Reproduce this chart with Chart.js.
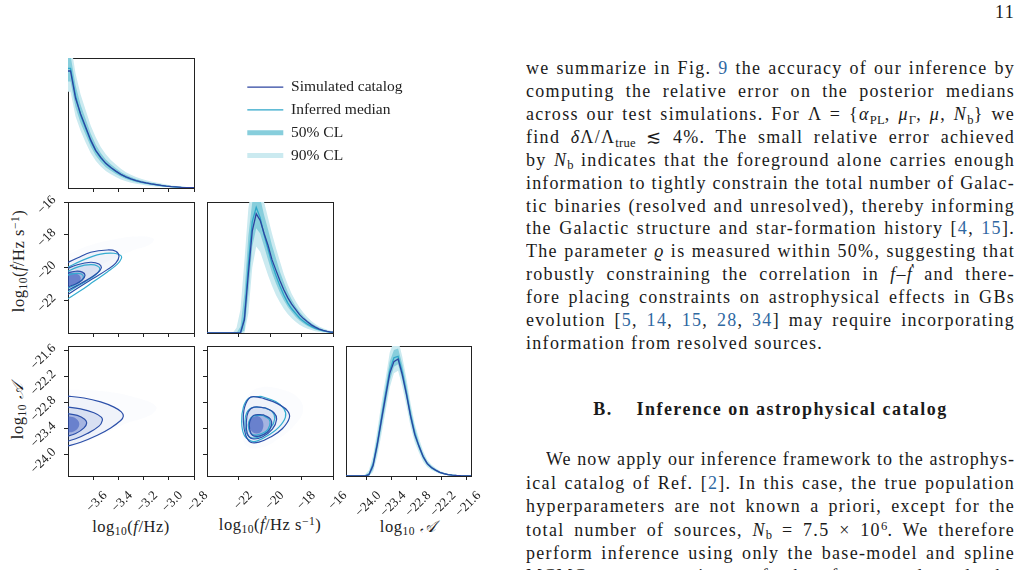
<!DOCTYPE html>
<html><head><meta charset="utf-8">
<script src="https://cdn.jsdelivr.net/npm/chart.js@4.4.1/dist/chart.umd.min.js"></script>
<style>
html,body{margin:0;padding:0;background:#fff;}
#page{position:relative;width:1025px;height:570px;overflow:hidden;background:#fff;font-family:"Liberation Serif","DejaVu Serif",serif;color:#1a1a1a;}
canvas{position:absolute;}
.ln{position:absolute;left:526px;width:489px;height:23px;line-height:23px;font-size:18px;letter-spacing:1.3px;white-space:nowrap;}
.j{text-align:justify;text-align-last:justify;overflow:hidden;}
.ln sub{font-size:70%;vertical-align:baseline;position:relative;top:0.28em;letter-spacing:0.2px;}
.ln sup{font-size:70%;vertical-align:baseline;position:relative;top:-0.45em;letter-spacing:0.2px;}
.c{color:#2f68a2;}
.hd{position:absolute;left:526px;width:489px;text-align:center;font-weight:bold;font-size:18px;letter-spacing:1.45px;line-height:23px;}
.pg{position:absolute;right:10px;top:1px;font-size:18px;letter-spacing:1.3px;line-height:23px;}
.ax{position:absolute;font-size:16.5px;letter-spacing:0.5px;white-space:nowrap;transform:translate(-50%,-50%);color:#222;line-height:20px;}
.ay{position:absolute;font-size:16.5px;letter-spacing:0.5px;white-space:nowrap;transform:translate(-50%,-50%) rotate(-90deg);color:#222;line-height:20px;}
.ax sub,.ay sub{font-size:70%;vertical-align:baseline;position:relative;top:0.3em;}
.ax sup,.ay sup{font-size:70%;vertical-align:baseline;position:relative;top:-0.45em;}
</style></head>
<body><div id="page">
<div class="pg">11</div>

<div class="ln j" style="top:57px">we summarize in Fig. <span class="c">9</span> the accuracy of our inference by</div>
<div class="ln j" style="top:80px">computing the relative error on the posterior medians</div>
<div class="ln j" style="top:103px">across our test simulations. For Λ = {<i>α</i><sub>PL</sub>, <i>μ</i><sub>Γ</sub>, <i>μ</i>, <i>N</i><sub>b</sub>} we</div>
<div class="ln j" style="top:126px">find <i>δ</i>Λ/Λ<sub>true</sub> ≲ 4%. The small relative error achieved</div>
<div class="ln j" style="top:148.5px">by <i>N</i><sub>b</sub> indicates that the foreground alone carries enough</div>
<div class="ln j" style="top:171.5px">information to tightly constrain the total number of Galac-</div>
<div class="ln j" style="top:194.5px">tic binaries (resolved and unresolved), thereby informing</div>
<div class="ln j" style="top:217px">the Galactic structure and star-formation history [<span class="c">4</span>, <span class="c">15</span>].</div>
<div class="ln j" style="top:240px">The parameter <i>ϱ</i> is measured within 50%, suggesting that</div>
<div class="ln j" style="top:263px">robustly constraining the correlation in <i>f</i>–<i>ḟ</i> and there-</div>
<div class="ln j" style="top:286px">fore placing constraints on astrophysical effects in GBs</div>
<div class="ln j" style="top:309px">evolution [<span class="c">5</span>, <span class="c">14</span>, <span class="c">15</span>, <span class="c">28</span>, <span class="c">34</span>] may require incorporating</div>
<div class="ln" style="top:332px">information from resolved sources.</div>

<div class="hd" style="top:398px">B.&nbsp;&nbsp;&nbsp; Inference on astrophysical catalog</div>

<div class="ln j" style="top:448px;left:546px;width:469px">We now apply our inference framework to the astrophys-</div>
<div class="ln j" style="top:471.5px">ical catalog of Ref. [<span class="c">2</span>]. In this case, the true population</div>
<div class="ln j" style="top:495px">hyperparameters are not known a priori, except for the</div>
<div class="ln j" style="top:518.5px">total number of sources, <i>N</i><sub>b</sub> = 7.5 × 10<sup>6</sup>. We therefore</div>
<div class="ln j" style="top:541.5px">perform inference using only the base-model and spline</div>
<div class="ln j" style="top:564.5px">MCMC reconstructions of the foreground and the resolved</div>

<div class="ax" style="left:131px;top:527px">log<sub>10</sub>(<i>f</i>/Hz)</div>
<div class="ax" style="left:270px;top:525px">log<sub>10</sub>(<i>ḟ</i>/Hz s<sup>−1</sup>)</div>
<div class="ax" style="left:408px;top:527px">log<sub>10</sub> <i>𝒜</i></div>
<div class="ay" style="left:19px;top:261px">log<sub>10</sub>(<i>ḟ</i>/Hz s<sup>−1</sup>)</div>
<div class="ay" style="left:18px;top:411px">log<sub>10</sub> <i>𝒜</i></div>
</div>
<script>
// fit justified lines: shrink letter-spacing only where a line would overflow
document.querySelectorAll('.ln.j').forEach(el => {
  let ls = 1.3;
  while (el.scrollWidth > el.clientWidth + 0.5 && ls > 0) { ls -= 0.05; el.style.letterSpacing = ls + 'px'; }
  el.style.whiteSpace = 'normal';
});

// ---------- axis ranges and ticks ----------
const fRange = [-3.8, -2.8];
const fdRange = [-24, -16];
const aRange = [-24.5, -21.5];
const histRange = [0, 1];
const fTicks = [-3.6, -3.4, -3.2, -3.0, -2.8];
const fTickLabels = ['\u22123.6', '\u22123.4', '\u22123.2', '\u22123.0', '\u22122.8'];
const fdTicks = [-22, -20, -18, -16];
const fdTickLabels = ['\u221222', '\u221220', '\u221218', '\u221216'];
const aTicks = [-24.0, -23.4, -22.8, -22.2, -21.6];
const aTickLabels = ['\u221224.0', '\u221223.4', '\u221222.8', '\u221222.2', '\u221221.6'];

// ---------- 1D: log10 f ----------
const fBins = [-3.78,-3.74,-3.70,-3.66,-3.62,-3.58,-3.54,-3.50,-3.46,-3.42,-3.38,-3.34,-3.30,-3.26,-3.22,-3.18,-3.14,-3.10,-3.06,-3.02,-2.98,-2.94,-2.90,-2.86,-2.82];
const fSim  = [0.90,0.69,0.57,0.47,0.37,0.29,0.235,0.19,0.158,0.13,0.105,0.085,0.07,0.057,0.047,0.039,0.032,0.026,0.020,0.015,0.011,0.008,0.005,0.003,0.002];
const fMed  = [0.92,0.71,0.56,0.46,0.36,0.285,0.23,0.188,0.155,0.127,0.103,0.084,0.069,0.056,0.046,0.038,0.031,0.025,0.019,0.014,0.010,0.007,0.005,0.003,0.002];
const f50lo = [0.82,0.62,0.50,0.41,0.32,0.25,0.20,0.16,0.132,0.107,0.086,0.069,0.056,0.045,0.037,0.030,0.024,0.019,0.014,0.010,0.007,0.005,0.003,0.002,0.001];
const f50hi = [1.02,0.79,0.64,0.53,0.42,0.335,0.27,0.22,0.183,0.152,0.124,0.101,0.084,0.069,0.057,0.048,0.040,0.033,0.026,0.020,0.015,0.011,0.007,0.005,0.003];
const f90lo = [0.74,0.55,0.44,0.35,0.27,0.21,0.165,0.13,0.105,0.084,0.066,0.052,0.041,0.032,0.026,0.020,0.015,0.011,0.008,0.005,0.003,0.002,0.001,0,0];
const f90hi = [1.12,0.88,0.72,0.60,0.48,0.39,0.315,0.26,0.215,0.18,0.148,0.122,0.102,0.085,0.071,0.06,0.05,0.042,0.034,0.027,0.02,0.015,0.01,0.007,0.005];

// ---------- 1D: log10 fdot ----------
const fdBins = [-23.875,-23.625,-23.375,-23.125,-22.875,-22.625,-22.375,-22.125,-21.875,-21.625,-21.375,-21.125,-20.875,-20.625,-20.375,-20.125,-19.875,-19.625,-19.375,-19.125,-18.875,-18.625,-18.375,-18.125,-17.875,-17.625,-17.375,-17.125,-16.875,-16.625,-16.375,-16.125];
const fdSim  = [0,0,0,0,0,0,0,0,0,0.10,0.45,0.78,0.91,0.86,0.76,0.67,0.56,0.48,0.40,0.33,0.27,0.22,0.18,0.14,0.11,0.085,0.062,0.045,0.030,0.020,0.012,0.006];
const fdMed  = [0,0,0,0,0,0,0,0,0,0.12,0.52,0.85,0.96,0.88,0.75,0.64,0.53,0.44,0.36,0.29,0.23,0.185,0.15,0.115,0.09,0.068,0.05,0.036,0.025,0.016,0.01,0.005];
const fd50lo = [0,0,0,0,0,0,0,0,0,0.02,0.30,0.66,0.80,0.76,0.66,0.56,0.46,0.38,0.31,0.25,0.20,0.16,0.125,0.095,0.072,0.053,0.038,0.027,0.018,0.011,0.006,0.003];
const fd50hi = [0,0,0,0,0,0,0,0,0.05,0.30,0.74,1.0,1.08,1.03,0.9,0.79,0.67,0.57,0.47,0.39,0.315,0.255,0.205,0.162,0.127,0.098,0.074,0.055,0.04,0.027,0.017,0.01];
const fd90lo = [0,0,0,0,0,0,0,0,0,0,0.15,0.50,0.66,0.62,0.53,0.44,0.36,0.29,0.235,0.185,0.145,0.112,0.085,0.063,0.046,0.032,0.022,0.014,0.008,0.004,0.002,0];
const fd90hi = [0,0,0,0,0,0,0,0.04,0.18,0.55,0.95,1.15,1.22,1.16,1.0,0.88,0.76,0.65,0.55,0.45,0.37,0.30,0.245,0.195,0.155,0.12,0.092,0.069,0.05,0.036,0.024,0.015];

// ---------- 1D: log10 A ----------
const aBins = [-24.45,-24.35,-24.25,-24.15,-24.05,-23.95,-23.85,-23.75,-23.65,-23.55,-23.45,-23.35,-23.25,-23.15,-23.05,-22.95,-22.85,-22.75,-22.65,-22.55,-22.45,-22.35,-22.25,-22.15,-22.05,-21.95,-21.85,-21.75,-21.65,-21.55];
const aSim  = [0,0,0,0,0,0.01,0.08,0.24,0.43,0.61,0.79,0.88,0.90,0.78,0.63,0.46,0.32,0.23,0.15,0.095,0.065,0.045,0.028,0.018,0.011,0.007,0.004,0.002,0.001,0.001];
const aMed  = [0,0,0,0,0,0.01,0.09,0.25,0.44,0.63,0.81,0.91,0.92,0.80,0.64,0.47,0.33,0.23,0.15,0.095,0.064,0.044,0.028,0.018,0.011,0.007,0.004,0.002,0.001,0.001];
const a50lo = [0,0,0,0,0,0,0.05,0.19,0.37,0.55,0.73,0.84,0.86,0.74,0.59,0.42,0.29,0.205,0.13,0.082,0.055,0.037,0.023,0.014,0.008,0.005,0.003,0.001,0,0];
const a50hi = [0,0,0,0,0.005,0.025,0.12,0.30,0.50,0.69,0.88,0.97,0.98,0.86,0.70,0.52,0.37,0.26,0.172,0.11,0.076,0.053,0.034,0.022,0.014,0.009,0.005,0.003,0.002,0.001];
const a90lo = [0,0,0,0,0,0,0.03,0.15,0.32,0.50,0.68,0.79,0.81,0.69,0.54,0.38,0.26,0.18,0.11,0.07,0.046,0.03,0.018,0.011,0.006,0.003,0.002,0.001,0,0];
const a90hi = [0,0,0,0,0.01,0.045,0.16,0.35,0.56,0.75,0.95,1.04,1.05,0.92,0.75,0.56,0.40,0.29,0.195,0.125,0.087,0.061,0.04,0.027,0.017,0.011,0.007,0.004,0.003,0.002];

// ---------- 2D: (log f, log fdot) contours ----------
const c10SimOuter = [[-3.83,-19.80],[-3.726,-19.42],[-3.62,-19.07],[-3.488,-18.93],[-3.421,-19.01],[-3.395,-19.32],[-3.421,-19.73],[-3.488,-20.13],[-3.594,-20.64],[-3.70,-21.15],[-3.83,-21.80]];
const c10SimMid   = [[-3.83,-20.15],[-3.726,-19.83],[-3.62,-19.68],[-3.554,-19.79],[-3.536,-20.03],[-3.567,-20.34],[-3.647,-20.75],[-3.726,-21.09],[-3.83,-21.52]];
const c10SimIn    = [[-3.83,-20.38],[-3.739,-20.23],[-3.686,-20.28],[-3.665,-20.48],[-3.686,-20.75],[-3.739,-21.01],[-3.83,-21.25]];
const c10InfOuter = [[-3.83,-20.10],[-3.673,-19.52],[-3.541,-19.18],[-3.435,-19.13],[-3.382,-19.26],[-3.377,-19.46],[-3.408,-19.79],[-3.488,-20.27],[-3.594,-20.84],[-3.699,-21.41],[-3.83,-22.05]];
const c10InfMid   = [[-3.83,-20.33],[-3.713,-19.95],[-3.62,-19.83],[-3.567,-19.91],[-3.548,-20.11],[-3.58,-20.44],[-3.66,-20.85],[-3.739,-21.21],[-3.83,-21.62]];
const c10InfIn    = [[-3.83,-20.52],[-3.739,-20.36],[-3.694,-20.40],[-3.678,-20.60],[-3.70,-20.85],[-3.752,-21.09],[-3.83,-21.35]];
const d10Halo = [[-3.83,-19.3],[-3.65,-18.7],[-3.45,-18.3],[-3.25,-18.1],[-3.12,-18.25],[-3.15,-18.6],[-3.3,-19.0],[-3.5,-19.7],[-3.68,-20.7],[-3.83,-21.9]];
const d10Core = [[-3.83,-20.3],[-3.74,-20.35],[-3.70,-20.6],[-3.72,-20.95],[-3.83,-21.15]];

// ---------- 2D: (log f, log A) contours ----------
const c20Outer = [[-3.83,-22.65],[-3.673,-22.70],[-3.541,-22.79],[-3.435,-22.91],[-3.377,-23.02],[-3.361,-23.12],[-3.382,-23.22],[-3.461,-23.39],[-3.567,-23.56],[-3.699,-23.72],[-3.83,-23.83]];
const c20Mid   = [[-3.83,-22.90],[-3.70,-22.95],[-3.594,-23.04],[-3.536,-23.14],[-3.528,-23.22],[-3.554,-23.35],[-3.647,-23.52],[-3.739,-23.64],[-3.83,-23.72]];
const c20In    = [[-3.83,-23.05],[-3.726,-23.10],[-3.668,-23.19],[-3.652,-23.28],[-3.673,-23.39],[-3.739,-23.52],[-3.83,-23.60]];
const d20Halo = [[-3.83,-22.5],[-3.5,-22.55],[-3.25,-22.7],[-3.1,-22.9],[-3.15,-23.1],[-3.35,-23.3],[-3.6,-23.65],[-3.83,-23.9]];
const d20Core = [[-3.83,-23.12],[-3.75,-23.15],[-3.71,-23.3],[-3.75,-23.47],[-3.83,-23.5]];

// ---------- 2D: (log fdot, log A) contours ----------
const c21SimOuter = [[-20.49,-22.70],[-19.53,-22.83],[-18.90,-22.99],[-18.77,-23.16],[-19.22,-23.41],[-19.96,-23.60],[-20.70,-23.72],[-21.23,-23.72],[-21.54,-23.56],[-21.69,-23.25],[-21.61,-22.91],[-21.23,-22.68],[-20.49,-22.70]];
const c21InfOuter = [[-20.59,-22.66],[-19.64,-22.78],[-19.11,-22.95],[-19.02,-23.14],[-19.43,-23.37],[-20.06,-23.55],[-20.80,-23.69],[-21.23,-23.69],[-21.65,-23.55],[-21.80,-23.25],[-21.69,-22.91],[-21.33,-22.70],[-20.59,-22.66]];
const c21SimMid   = [[-20.27,-22.93],[-19.75,-23.04],[-19.58,-23.19],[-19.85,-23.42],[-20.49,-23.60],[-21.12,-23.64],[-21.44,-23.52],[-21.50,-23.25],[-21.38,-23.02],[-21.02,-22.91],[-20.27,-22.93]];
const c21InfMid   = [[-20.38,-22.92],[-19.85,-23.02],[-19.70,-23.18],[-19.96,-23.39],[-20.59,-23.58],[-21.18,-23.62],[-21.50,-23.50],[-21.59,-23.25],[-21.48,-23.04],[-21.12,-22.92],[-20.38,-22.92]];
const c21SimIn    = [[-20.38,-23.09],[-19.96,-23.19],[-19.91,-23.33],[-20.17,-23.49],[-20.70,-23.58],[-21.12,-23.56],[-21.29,-23.42],[-21.29,-23.25],[-21.02,-23.10],[-20.38,-23.09]];
const c21InfIn    = [[-20.49,-23.10],[-20.06,-23.19],[-20.02,-23.33],[-20.27,-23.47],[-20.80,-23.55],[-21.18,-23.53],[-21.35,-23.41],[-21.35,-23.25],[-21.08,-23.12],[-20.49,-23.10]];
const d21Halo = [[-21.8,-23.0],[-21.3,-22.6],[-20.5,-22.45],[-19.3,-22.5],[-18.2,-22.7],[-17.9,-23.0],[-18.5,-23.35],[-19.5,-23.65],[-20.6,-23.85],[-21.5,-23.8],[-21.8,-23.45],[-21.8,-23.0]];
const d21Core = [[-21.25,-23.15],[-20.75,-23.12],[-20.45,-23.25],[-20.5,-23.45],[-20.85,-23.52],[-21.2,-23.45],[-21.3,-23.3],[-21.25,-23.15]];

// ---------- legend ----------
const legendLabels = ['Simulated catalog', 'Inferred median', '50% CL', '90% CL'];

// ---------- styles ----------
const INK = '#222';
const SIM = '#2c44a0';
const MED = '#2ea6c9';
const B50 = '#87cedc';
const B90 = '#cbeaf0';
const CSIM = '#2b4fa9';
const CINF = '#34acd0';
const DENS = a => `rgba(45,80,185,${a})`;
const FONT = "'Liberation Serif', 'DejaVu Serif', serif";

const page = document.getElementById('page');
function canvasAt(left, top, w, h) {
  const c = document.createElement('canvas');
  c.width = w; c.height = h;
  c.style.left = left + 'px'; c.style.top = top + 'px';
  c.style.width = w + 'px'; c.style.height = h + 'px';
  page.appendChild(c);
  return c;
}
const pts = arr => arr.map(p => ({x: p[0], y: p[1]}));
function binData(bins, vals, range) {
  const d = [{x: range[0], y: vals[0]}];
  bins.forEach((b, i) => d.push({x: b, y: vals[i]}));
  d.push({x: range[1], y: vals[vals.length - 1]});
  return d;
}
const line = (data, color, width, extra) => Object.assign({
  data, borderColor: color, borderWidth: width, backgroundColor: 'rgba(0,0,0,0)',
  showLine: true, pointRadius: 0, pointHoverRadius: 0, fill: false, tension: 0,
  xAxisID: 'x', yAxisID: 'y'
}, extra || {});

function histSets(bins, range, sim, med, lo50, hi50, lo90, hi90) {
  const st = v => binData(bins, v, range);
  const clear = 'rgba(0,0,0,0)';
  return [
    line(st(sim), SIM, 1.3),
    line(st(med), MED, 1.3),
    line(st(hi50), clear, 0, {fill: '+1', backgroundColor: B50}),
    line(st(lo50), clear, 0),
    line(st(hi90), clear, 0, {fill: '+1', backgroundColor: B90}),
    line(st(lo90), clear, 0)
  ];
}
function contourSets(sims, infs, dens) {
  const out = [];
  sims.forEach(c => out.push(line(pts(c), CSIM, 1.2, {tension: 0.4})));
  infs.forEach(c => out.push(line(pts(c), CINF, 1.2, {tension: 0.4})));
  dens.forEach(([c, a]) => out.push(line(pts(c), 'rgba(0,0,0,0)', 0, {tension: 0.4, fill: 'shape', backgroundColor: DENS(a)})));
  return out;
}

function mkAxis(axis, pos, range, ticks, labels, size) {
  const hasTicks = !!(ticks && ticks.length);
  return {
    type: 'linear', axis, position: pos, min: range[0], max: range[1],
    afterBuildTicks: s => { s.ticks = (ticks || []).map(v => ({value: v})); },
    afterFit: s => { if (axis === 'x') s.height = size; else s.width = size; },
    ticks: {
      display: !!labels, autoSkip: false, minRotation: 45, maxRotation: 45,
      padding: axis === 'x' ? 8 : 10, labelOffset: axis === 'x' ? 12 : -4,
      font: {family: FONT, size: 13}, color: INK,
      callback: (v, i) => labels ? labels[i] : ''
    },
    grid: {display: hasTicks, drawOnChartArea: false, drawTicks: true, tickLength: 4, color: INK, lineWidth: 1},
    border: {display: true, color: INK, width: 1}
  };
}
const frameAxis = (axis, pos) => ({
  type: 'linear', axis, position: pos, min: 0, max: 1,
  ticks: {display: false}, grid: {display: false, drawTicks: false},
  border: {display: true, color: INK, width: 1},
  afterFit: s => { if (axis === 'x') s.height = 0; else s.width = 0; }
});

const cols = [[68, 194], [207, 333], [346, 471]];
const rows = [[58, 188], [202, 333], [346, 476]];

function panel(r, c, cfg) {
  const [l, rt] = cols[c];
  const [t, b] = rows[r];
  const bottom = r === 2;
  const w = (rt - l) + 60 + 24;
  const h = (b - t) + 20 + (bottom ? 50 : 20);
  const cv = canvasAt(l - 60, t - 20, w, h);
  return new Chart(cv, {
    type: 'scatter',
    data: {datasets: cfg.datasets},
    options: {
      responsive: false, animation: false, events: [], devicePixelRatio: 1,
      layout: {padding: {left: 0, top: 20, right: 24, bottom: bottom ? 0 : 12}},
      plugins: {legend: {display: false}, tooltip: {enabled: false}},
      scales: {
        x: mkAxis('x', 'bottom', cfg.xr, cfg.xt, bottom ? cfg.xl : null, bottom ? 50 : 8),
        y: mkAxis('y', 'left', cfg.yr, cfg.yt, cfg.yl, 60),
        x2: frameAxis('x', 'top'),
        y2: frameAxis('y', 'right')
      }
    }
  });
}

// (0,0) log f marginal
panel(0, 0, {xr: fRange, xt: fTicks, xl: fTickLabels, yr: histRange, yt: [], yl: null,
  datasets: histSets(fBins, fRange, fSim, fMed, f50lo, f50hi, f90lo, f90hi)});
// (1,0) f - fdot
panel(1, 0, {xr: fRange, xt: fTicks, xl: fTickLabels, yr: fdRange, yt: fdTicks, yl: fdTickLabels,
  datasets: contourSets([c10SimOuter, c10SimMid, c10SimIn], [c10InfOuter, c10InfMid, c10InfIn],
    [[d10Core, 0.5], [c10SimIn, 0.3], [c10SimMid, 0.12], [c10SimOuter, 0.05], [d10Halo, 0.02]])});
// (1,1) fdot marginal
panel(1, 1, {xr: fdRange, xt: fdTicks, xl: fdTickLabels, yr: histRange, yt: [], yl: null,
  datasets: histSets(fdBins, fdRange, fdSim, fdMed, fd50lo, fd50hi, fd90lo, fd90hi)});
// (2,0) f - A
panel(2, 0, {xr: fRange, xt: fTicks, xl: fTickLabels, yr: aRange, yt: aTicks, yl: aTickLabels,
  datasets: contourSets([c20Outer, c20Mid, c20In], [],
    [[d20Core, 0.5], [c20In, 0.3], [c20Mid, 0.12], [c20Outer, 0.05], [d20Halo, 0.02]])});
// (2,1) fdot - A
panel(2, 1, {xr: fdRange, xt: fdTicks, xl: fdTickLabels, yr: aRange, yt: aTicks, yl: null,
  datasets: contourSets([c21SimOuter, c21SimMid, c21SimIn], [c21InfOuter, c21InfMid, c21InfIn],
    [[d21Core, 0.5], [c21SimIn, 0.3], [c21SimMid, 0.12], [c21SimOuter, 0.05], [d21Halo, 0.02]])});
// (2,2) A marginal
panel(2, 2, {xr: aRange, xt: aTicks, xl: aTickLabels, yr: histRange, yt: [], yl: null,
  datasets: histSets(aBins, aRange, aSim, aMed, a50lo, a50hi, a90lo, a90hi)});

// legend
const legendColors = [SIM, MED, B50, B90];
const legendWidths = [1.3, 1.3, 5, 5];
new Chart(canvasAt(240, 72, 200, 112), {
  type: 'scatter',
  data: {datasets: legendLabels.map((t, i) => ({label: t, data: [], borderColor: legendColors[i],
    backgroundColor: legendColors[i], borderWidth: legendWidths[i], showLine: true}))},
  options: {
    responsive: false, animation: false, events: [], devicePixelRatio: 1,
    layout: {padding: 0},
    scales: {x: {display: false}, y: {display: false}},
    plugins: {
      tooltip: {enabled: false},
      legend: {display: true, position: 'left', align: 'start', maxWidth: 200,
        labels: {usePointStyle: true, pointStyle: 'line', pointStyleWidth: 36, padding: 7.3,
          font: {family: FONT, size: 15.5}, color: INK}}
    }
  }
});
</script>
</body></html>
